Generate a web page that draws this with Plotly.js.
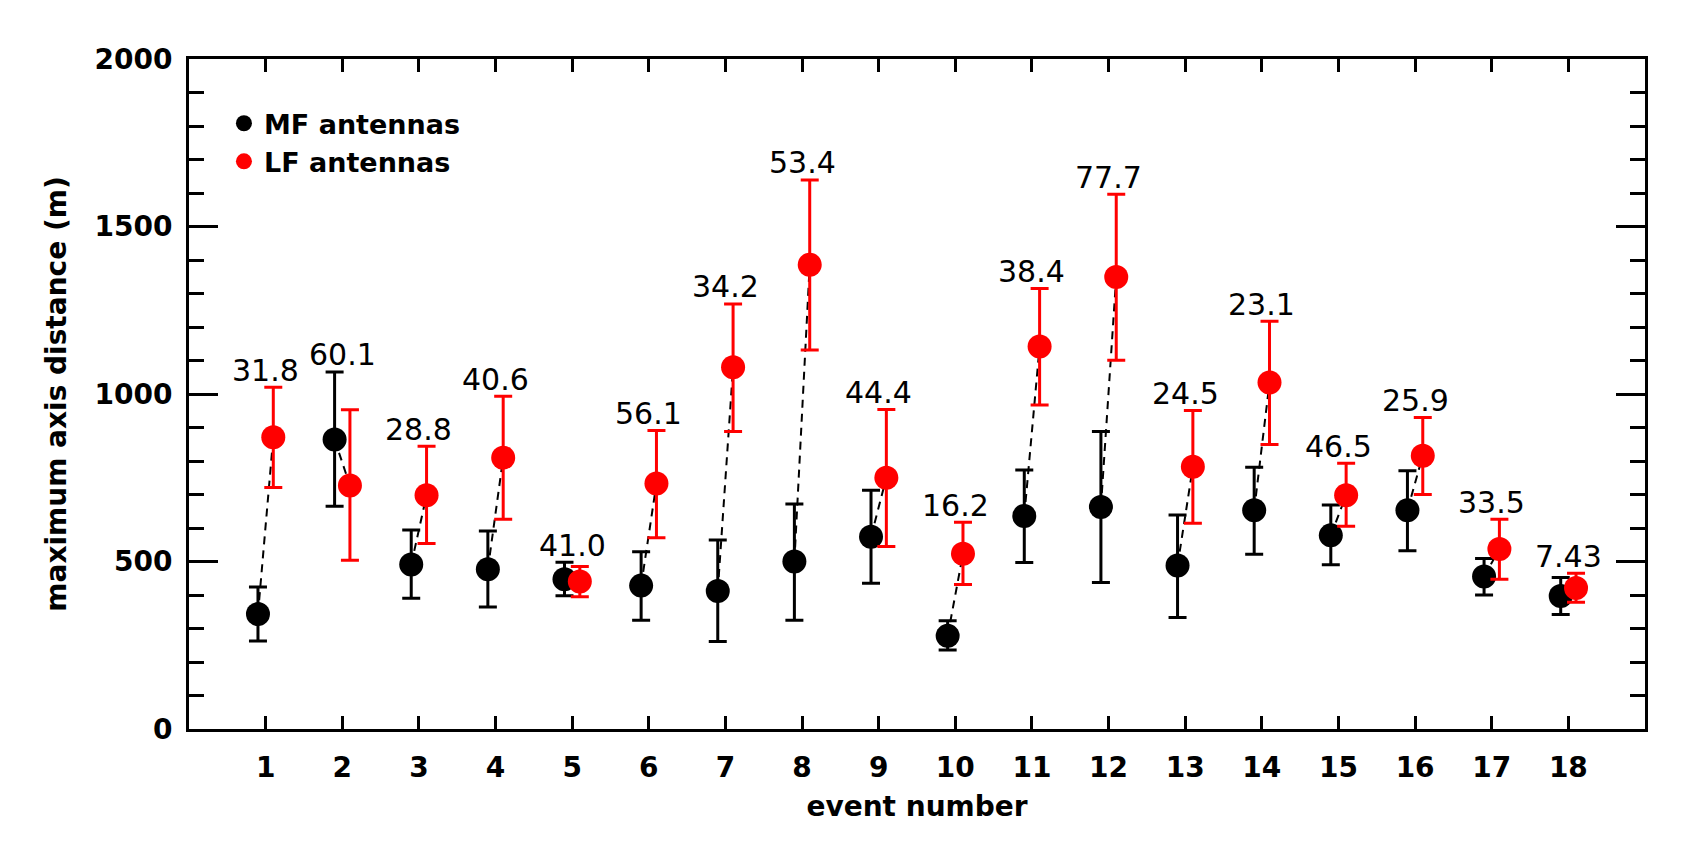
<!DOCTYPE html>
<html>
<head>
<meta charset="utf-8">
<script src="https://cdn.plot.ly/plotly-3.0.1.min.js"></script>
<style>html,body{margin:0;padding:0;background:#fff;}#chart{width:1700px;height:850px;}</style>
</head>
<body>
<div id="chart"></div>
<script>
// ---- data ----
const events = [1,2,3,4,5,6,7,8,9,10,11,12,13,14,15,16,17,18];
const mfValue = [343, 864, 491, 477, 447, 428, 412, 500, 574, 278, 636, 663, 488, 653, 578, 653, 455, 397];
const mfUpper = [424, 1066, 594, 591, 498, 529, 564, 672, 713, 323, 773, 888, 639, 781, 669, 771, 509, 452];
const mfLower = [263, 665, 390, 364, 398, 325, 261, 325, 435, 236, 497, 437, 333, 522, 490, 532, 400, 342];
const lfValue = [871, 727, 698, 810, 440, 733, 1080, 1386, 750, 523, 1142, 1349, 783, 1034, 698, 816, 537, 421];
const lfUpper = [1020, 953, 844, 993, 485, 891, 1269, 1639, 954, 617, 1315, 1596, 951, 1217, 793, 930, 626, 465];
const lfLower = [721, 504, 554, 626, 395, 571, 888, 1131, 545, 431, 967, 1101, 614, 849, 605, 700, 447, 378];
const pairLabels = ["31.8","60.1","28.8","40.6","41.0","56.1","34.2","53.4","44.4","16.2","38.4","77.7","24.5","23.1","46.5","25.9","33.5","7.43"];
const xTickVals = [1,2,3,4,5,6,7,8,9,10,11,12,13,14,15,16,17,18];
const xTickText = ["1","2","3","4","5","6","7","8","9","10","11","12","13","14","15","16","17","18"];

const OFF = 0.1;
const FONT = "DejaVu Sans, Liberation Sans, sans-serif";

const xMF = events.map(e => e - OFF);
const xLF = events.map(e => e + OFF);

// dashed connectors MF -> LF
const cx = [], cy = [];
events.forEach((e, i) => { cx.push(e - OFF, e + OFF, null); cy.push(mfValue[i], lfValue[i], null); });

const traces = [
  {
    type: 'scatter', mode: 'lines', x: cx, y: cy, showlegend: false, hoverinfo: 'skip',
    line: {color: 'black', width: 2, dash: '8px,6px'}
  },
  {
    type: 'scatter', mode: 'markers', name: 'MF antennas', x: xMF, y: mfValue,
    marker: {color: 'black', size: 24, line: {width: 0}},
    error_y: {type: 'data', symmetric: false,
      array: mfUpper.map((u, i) => u - mfValue[i]),
      arrayminus: mfLower.map((l, i) => mfValue[i] - l),
      color: 'black', thickness: 3, width: 9}
  },
  {
    type: 'scatter', mode: 'markers', name: 'LF antennas', x: xLF, y: lfValue,
    marker: {color: '#ff0000', size: 24, line: {width: 0}},
    error_y: {type: 'data', symmetric: false,
      array: lfUpper.map((u, i) => u - lfValue[i]),
      arrayminus: lfLower.map((l, i) => lfValue[i] - l),
      color: '#ff0000', thickness: 3, width: 9}
  }
];

const annotations = events.map((e, i) => ({
  x: e, y: Math.max(mfUpper[i], lfUpper[i]), xref: 'x', yref: 'y',
  text: pairLabels[i], showarrow: false, yanchor: 'middle', xanchor: 'center', yshift: 17,
  font: {family: FONT, size: 30, color: 'black'}
}));

const layout = {
  width: 1700, height: 850,
  margin: {l: 189, r: 55, t: 59, b: 121},
  paper_bgcolor: 'white', plot_bgcolor: 'white',
  showlegend: true,
  legend: {x: 0.024, y: 0.94, xanchor: 'left', yanchor: 'top', bgcolor: 'rgba(0,0,0,0)',
    font: {family: FONT, size: 27, color: 'black', weight: 'bold'}, tracegroupgap: 0},
  xaxis: {
    range: [0, 19], tickmode: 'array', tickvals: xTickVals, ticktext: xTickText,
    ticks: 'inside', ticklen: 13, tickwidth: 3, tickcolor: 'black',
    showline: true, linewidth: 3, linecolor: 'black', mirror: 'ticks',
    showgrid: false, zeroline: false, ticklabelstandoff: 11,
    tickfont: {family: FONT, size: 28, color: 'black', weight: 'bold'},
    title: {text: 'event number', standoff: 14, font: {family: FONT, size: 28, color: 'black', weight: 'bold'}}
  },
  yaxis: {
    range: [0, 2000], tickmode: 'linear', tick0: 0, dtick: 500,
    ticks: 'inside', ticklen: 29, tickwidth: 3, tickcolor: 'black',
    minor: {dtick: 100, tick0: 0, ticks: 'inside', ticklen: 15, tickwidth: 3, tickcolor: 'black', showgrid: false},
    showline: true, linewidth: 3, linecolor: 'black', mirror: 'ticks',
    showgrid: false, zeroline: false, ticklabelstandoff: 8,
    tickfont: {family: FONT, size: 28, color: 'black', weight: 'bold'},
    title: {text: 'maximum axis distance (m)', standoff: 20, font: {family: FONT, size: 28, color: 'black', weight: 'bold'}}
  },
  annotations: annotations
};

Plotly.newPlot('chart', traces, layout, {displayModeBar: false, staticPlot: true});
</script>
</body>
</html>
